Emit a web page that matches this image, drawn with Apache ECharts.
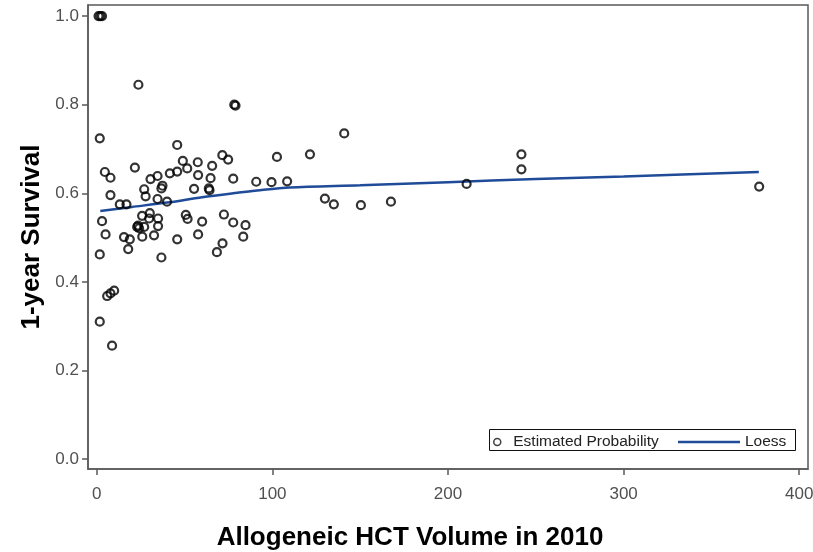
<!DOCTYPE html>
<html>
<head>
<meta charset="utf-8">
<script src="https://cdn.jsdelivr.net/npm/echarts@6/dist/echarts.min.js"></script>
<style>
html,body{margin:0;padding:0;background:#fff;}
#chart{width:813px;height:552px;}
</style>
</head>
<body>
<div id="chart"></div>
<script>
// Estimated Probability (x = Allogeneic HCT volume, y = 1-year survival)
const volume = [1,2,3,23.7,78.3,79,1.7,45.8,71.5,74.8,102.6,49,57.5,65.7,4.6,21.7,7.8,30.6,34.6,41.6,45.8,51.5,57.7,64.8,77.7,90.8,99.5,37.4,36.8,27,7.8,55.4,63.8,64.2,27.8,13.1,16.9,34.6,40,108.4,121.4,140.9,129.9,135,150.4,167.5,210.6,241.8,241.8,377.2,3,5,15.5,18.8,17.9,25.8,30.2,29.8,34.9,23,24.1,23.5,27,34.9,25.9,32.6,45.8,50.7,51.7,60,57.7,72.4,77.7,84.7,83.4,71.6,68.4,1.7,36.8,5.9,7.8,9.9,1.7,8.7];
const survival = [1.0,1.0,1.0,0.845,0.800,0.798,0.724,0.709,0.686,0.676,0.682,0.673,0.670,0.662,0.648,0.658,0.635,0.632,0.639,0.645,0.649,0.656,0.641,0.634,0.633,0.626,0.625,0.617,0.611,0.609,0.596,0.610,0.611,0.607,0.593,0.575,0.575,0.587,0.581,0.627,0.688,0.735,0.588,0.575,0.573,0.581,0.621,0.688,0.654,0.615,0.537,0.507,0.501,0.496,0.474,0.549,0.555,0.543,0.543,0.524,0.521,0.527,0.524,0.526,0.502,0.505,0.496,0.551,0.542,0.536,0.507,0.552,0.534,0.528,0.502,0.487,0.467,0.462,0.455,0.368,0.374,0.380,0.310,0.256];
// Loess fit
const loessX = [2,20,40,60,80,95,110,150,200,250,300,377];
const loessY = [0.560,0.569,0.579,0.591,0.601,0.608,0.613,0.618,0.625,0.632,0.638,0.648];
// Ticks
const xTicks = [0,100,200,300,400];
const yTicks = [0,0.2,0.4,0.6,0.8,1.0];

const scatterData = volume.map((v,i)=>[v, survival[i]]);
const loessData = loessX.map((v,i)=>[v, loessY[i]]);

const chart = echarts.init(document.getElementById('chart'));
const frame = '#5a5a5a';
const font = 'Liberation Sans, Arial';
chart.setOption({
  animation:false,
  backgroundColor:'#fff',
  grid:{left:88,right:5,top:5,bottom:83,containLabel:false,outerBoundsMode:'none',show:true,borderColor:frame,borderWidth:1.5,backgroundColor:'transparent'},
  xAxis:{
    type:'value',min:-5,max:405,
    name:'Allogeneic HCT Volume in 2010',nameLocation:'middle',nameGap:56,
    nameTextStyle:{fontFamily:font,fontWeight:'bold',fontSize:26,color:'#000',padding:[0,76,0,0]},
    axisLine:{show:true,onZero:false,lineStyle:{color:frame,width:1.5}},
    axisTick:{show:true,length:6,customValues:xTicks,lineStyle:{color:frame,width:1.5}},
    axisLabel:{customValues:xTicks,margin:17,fontFamily:font,fontSize:17,color:'#505050'},
    splitLine:{show:false}
  },
  yAxis:{
    type:'value',min:-0.0225,max:1.025,
    name:'1-year Survival',nameLocation:'middle',nameGap:42,nameRotate:90,
    nameTextStyle:{fontFamily:font,fontWeight:'bold',fontSize:26,color:'#000'},
    axisLine:{show:true,onZero:false,lineStyle:{color:frame,width:1.5}},
    axisTick:{show:true,length:6,customValues:yTicks,lineStyle:{color:frame,width:1.5}},
    axisLabel:{customValues:yTicks,margin:9,fontFamily:font,fontSize:17,color:'#505050',formatter:v=>v.toFixed(1)},
    splitLine:{show:false}
  },
  legend:[
    {data:['Estimated Probability'],left:488,top:429,itemWidth:22,itemHeight:7,icon:'circle',
     itemStyle:{color:'rgba(0,0,0,0)',borderColor:'#111',borderWidth:1.5},
     textStyle:{fontFamily:font,fontSize:15.5,color:'#222'}},
    {data:['Loess'],left:673,top:429,itemWidth:62,itemHeight:2.5,icon:'rect',
     textStyle:{fontFamily:font,fontSize:15.5,color:'#222'}}
  ],
  graphic:[{type:'rect',left:487,top:427,shape:{width:306,height:21},style:{fill:'none',stroke:'#111',lineWidth:1},z:100}],
  series:[
    {name:'Estimated Probability',type:'scatter',data:scatterData,symbol:'circle',symbolSize:8,
     itemStyle:{color:'rgba(0,0,0,0)',borderColor:'#000',borderWidth:2.2},z:3},
    {name:'Loess',type:'line',data:loessData,smooth:0.3,symbol:'none',
     lineStyle:{color:'#1f4b99',width:2.5},itemStyle:{color:'#1f4b99'},z:2}
  ]
});
</script>
</body>
</html>
